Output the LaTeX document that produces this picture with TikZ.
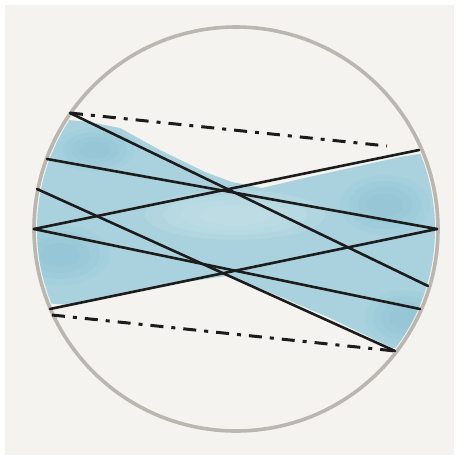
\documentclass[tikz,border=0pt]{standalone}
\usepackage{tikz}
\usetikzlibrary{calc}
\definecolor{Paper}{RGB}{244,243,239}
\definecolor{RimGray}{RGB}{186,183,177}
\definecolor{Wash}{RGB}{170,210,222}
\definecolor{WashDeep}{RGB}{130,188,207}
\definecolor{WashLight}{RGB}{200,226,233}
\definecolor{Ink}{RGB}{28,28,28}
\tikzset{
  rim/.style={draw=RimGray,line width=3.6pt},
  ray/.style={draw=Ink,line width=2.6pt,line cap=round},
  marginal/.style={draw=Ink,line width=3pt,dash pattern=on 13pt off 8pt on 4pt off 8pt},
  washpatch/.style={fill=WashDeep,opacity=0.13},
  washglow/.style={fill=WashLight,opacity=0.25}
}
\begin{document}
\begin{tikzpicture}[x=1pt,y=-1pt]
\useasboundingbox (0,0) rectangle (458,459);
\fill[white] (0,0) rectangle (458,459);
\fill[Paper] (5,5) rectangle (454,455);
% watercolour band
\begin{scope}
\clip (236,229) circle (199);
\fill[Wash] (30,118) -- (58,119) -- (90,122) -- (120,128) -- (160,150) -- (205,172) -- (232,182) -- (262,188)
  -- (300,179) -- (350,168) -- (400,157) -- (445,150) -- (445,300) -- (408,347) -- (392,348) -- (330,318)
  -- (262,289) -- (226,276) -- (180,283) -- (120,295) -- (70,305) -- (30,302) -- cycle;
\foreach \r in {1,0.8,0.6,0.4}{
  \fill[washglow] (235,215) ellipse ({90*\r} and {25*\r});
  \fill[washpatch] (60,255) ellipse ({50*\r} and {30*\r});
  \fill[washpatch] (405,318) ellipse ({40*\r} and {28*\r});
  \fill[washpatch] (385,205) ellipse ({45*\r} and {30*\r});
  \fill[washpatch] (95,150) ellipse ({40*\r} and {22*\r});
}
\end{scope}
\draw[rim] (236,229) circle (202);
% points on the left
\coordinate (a) at (70,113);
\coordinate (b) at (47,159);
\coordinate (c) at (37,189);
\coordinate (d) at (34,229);
\coordinate (e) at (50,309);
\coordinate (f) at (52,315);
% points on the right
\coordinate (g) at (419,150);
\coordinate (h) at (437,229);
\coordinate (i) at (428,286);
\coordinate (j) at (420,309);
\coordinate (k) at (395,351);
\coordinate (l) at (387,146);
\draw[marginal] (a) -- (l);
\draw[marginal] (f) -- (k);
\draw[ray] (a) -- (i);
\draw[ray] (b) -- (h);
\draw[ray] (c) -- (k);
\draw[ray] (d) -- (g);
\draw[ray] (d) -- (j);
\draw[ray] (e) -- (h);
\end{tikzpicture}
\end{document}
